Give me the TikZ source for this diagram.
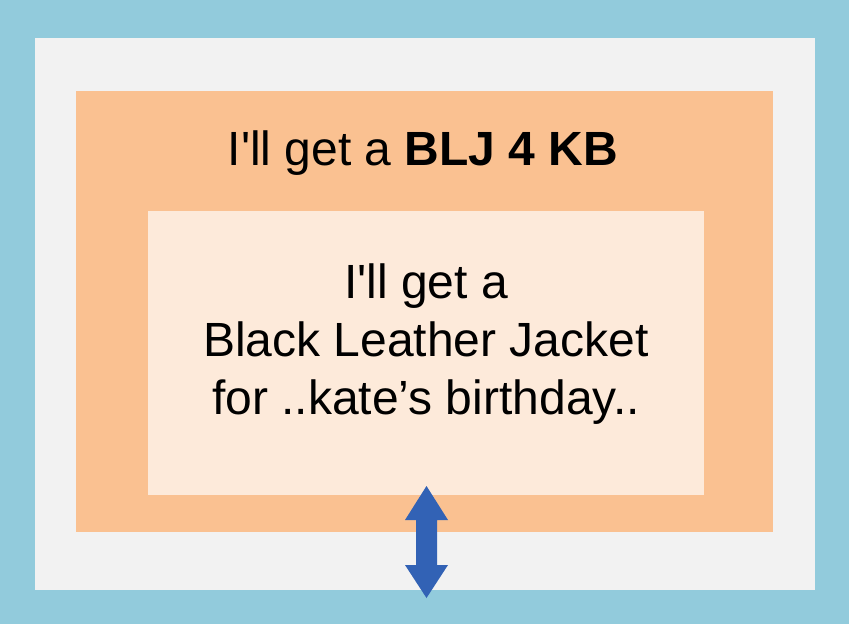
\documentclass[tikz,border=0pt]{standalone}
\usepackage{fontspec}
\newfontfamily\plainfont{Liberation Sans}
\definecolor{bluebg}{HTML}{92CBDC}
\definecolor{graybg}{HTML}{F2F2F2}
\definecolor{orangebg}{HTML}{FAC191}
\definecolor{peachbg}{HTML}{FDEADA}
\definecolor{arrowblue}{HTML}{3262B5}
\begin{document}
\begin{tikzpicture}[x=1pt,y=-1pt,
  panel/.style={anchor=north west, inner sep=0pt, outer sep=0pt, draw=none},
  bigtext/.style={font=\plainfont\fontsize{48}{58}\selectfont, inner sep=0pt, text=black}]
\useasboundingbox (0,0) rectangle (849,624);
\node[panel, fill=bluebg, minimum width=849pt, minimum height=624pt] (bg) at (0,0) {};
\node[panel, fill=graybg, minimum width=780pt, minimum height=552pt] (gray) at (35,38) {};
\node[panel, fill=orangebg, minimum width=697pt, minimum height=441pt] (orange) at (76,91) {};
\node[panel, fill=peachbg, minimum width=556pt, minimum height=284pt] (peach) at (148,211) {};
\node[bigtext, anchor=base] (title) at (423,165) {I'll get a \textbf{BLJ 4 KB}};
\node[bigtext, align=center] (body) at (426,344) {I'll get a\\Black Leather Jacket\\for ..kate’s birthday..};
\coordinate (arr) at (426.5,542);
\fill[arrowblue] (426.5,486) -- (405,520) -- (416,520) -- (416,565) -- (405,565) -- (426.5,598)
  -- (448,565) -- (437,565) -- (437,520) -- (448,520) -- cycle;
\end{tikzpicture}
\end{document}
